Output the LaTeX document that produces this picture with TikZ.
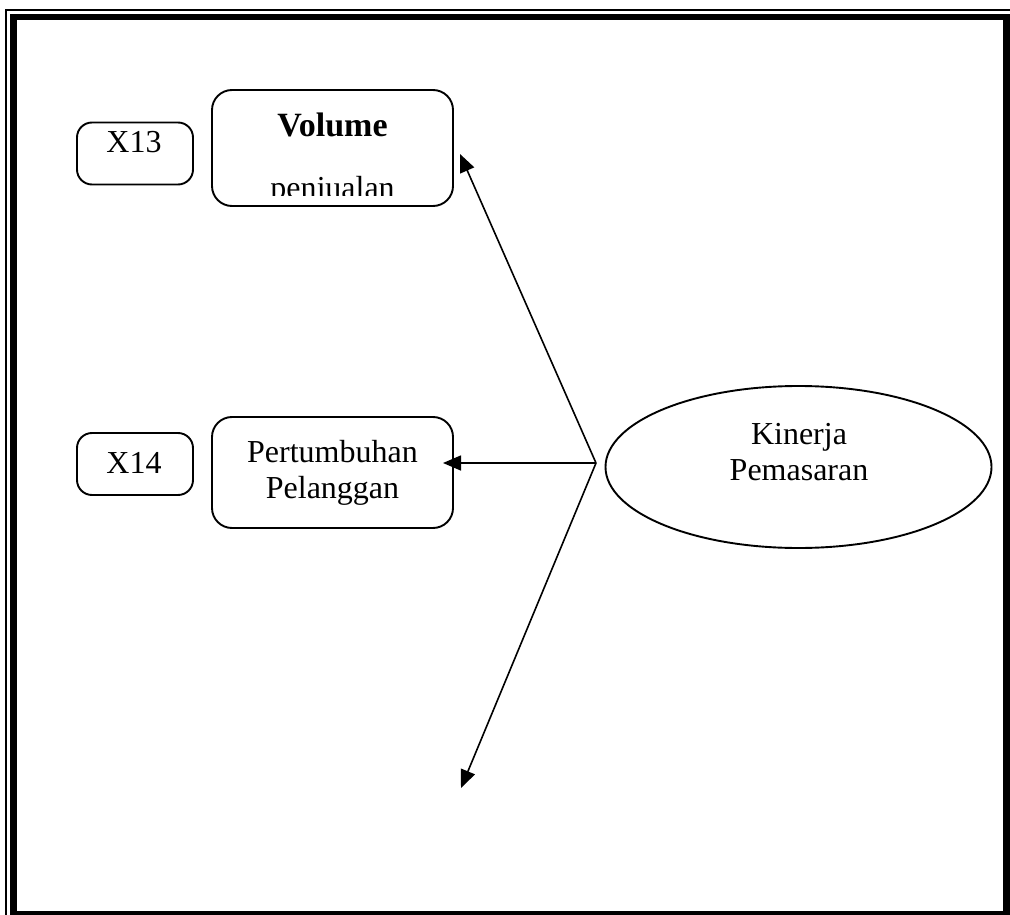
\documentclass[tikz,border=0pt]{standalone}
\usepackage{fontspec}
\setmainfont{Liberation Serif}
\usetikzlibrary{arrows.meta,shapes.geometric}
\begin{document}
\begin{tikzpicture}[x=0.5pt,y=-0.5pt,
  smallbox/.style={draw,line width=0.95pt,rounded corners=7.5pt,inner sep=0pt,
    minimum width=58pt,minimum height=31pt},
  bigbox/.style={draw,line width=0.95pt,rounded corners=10pt,inner sep=0pt,
    minimum width=120.5pt},
  lbl/.style={font=\fontsize{16}{18}\selectfont,anchor=base,inner sep=0pt},
  link/.style={line width=0.8pt,-{Triangle[length=9pt,width=7.5pt]}}]
\useasboundingbox (0,0) rectangle (1010,914);
\clip (0,0) rectangle (1010,914);

% double page frame
\draw[line width=0.6pt] (6,10) rectangle (1030,934);
\draw[line width=3.2pt] (13.5,17) rectangle (1006.5,914);

% indicator boxes
\node[smallbox] (x13) at (135,153.5) {};
\node[lbl] (x13t) at (134,153) {X13};
\node[smallbox] (x14) at (135,464) {};
\node[lbl] (x14t) at (134,473) {X14};

\node[bigbox,minimum height=58pt] (vol) at (332.5,148) {};
\node[lbl,font=\fontsize{17}{19}\selectfont\bfseries] (volt) at (332.5,137) {Volume};
\begin{scope}
  \clip (214,150) rectangle (451,196);
  \node[lbl] (penj) at (332.5,199) {penjualan};
\end{scope}

\node[bigbox,minimum height=55.5pt] (tumb) at (332.5,472.5) {};
\node[lbl] (tumb1) at (332.5,462) {Pertumbuhan};
\node[lbl] (tumb2) at (332.5,498) {Pelanggan};

% latent construct
\node[draw,ellipse,line width=0.95pt,inner sep=0pt,
  minimum width=193pt,minimum height=81pt] (kin) at (798.5,467) {};
\node[lbl] (kin1) at (799,444) {Kinerja};
\node[lbl] (kin2) at (799,480) {Pemasaran};

% loadings
\coordinate (hub) at (596,463);
\coordinate (tip1) at (460,154);
\coordinate (tip2) at (443,463);
\coordinate (tip3) at (461,788);
\draw[link] (hub) -- (tip1);
\draw[link] (hub) -- (tip2);
\draw[link] (hub) -- (tip3);
\end{tikzpicture}
\end{document}
